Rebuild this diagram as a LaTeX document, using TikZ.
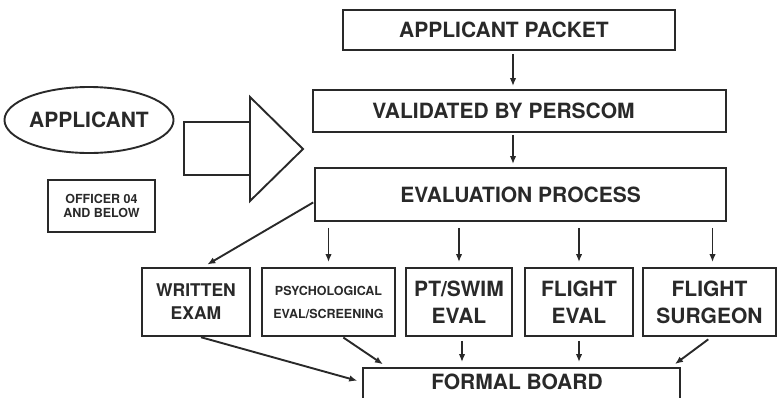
\documentclass[tikz,border=0pt]{standalone}
\usepackage{fontspec}
\setmainfont{TeX Gyre Heros}
\usetikzlibrary{shapes.geometric,arrows.meta}
\definecolor{ink}{gray}{0.16}
\begin{document}
\begin{tikzpicture}[x=1pt,y=-1pt,
  frame/.style={draw=ink, line width=1.9pt, rectangle, inner sep=0pt, align=center, text=ink},
  big/.style={font=\bfseries\fontsize{21}{27}\selectfont},
  mid/.style={font=\bfseries\fontsize{17.5}{23}\selectfont},
  small/.style={font=\bfseries\fontsize{12.5}{14}\selectfont},
  smallwide/.style={font=\bfseries\fontsize{12.5}{23}\selectfont},
  arr/.style={draw=ink, line width=1.9pt, -{Latex[length=8pt,width=6.5pt]}}]
\useasboundingbox (0,0) rectangle (778,397);
% top column
\node[frame, big, minimum width=332pt, minimum height=40pt] (packet) at (509,30) {APPLICANT PACKET\hspace*{10pt}};
\node[frame, big, minimum width=413pt, minimum height=42pt] (validated) at (519.5,111) {VALIDATED BY PERSCOM\hspace*{32pt}};
\node[frame, big, minimum width=411pt, minimum height=53pt] (eval) at (520.5,194.5) {EVALUATION PROCESS};
% left side
\node[draw=ink, line width=1.9pt, ellipse, inner sep=0pt, minimum width=162pt, minimum height=66pt, text=ink, big] (applicant) at (89,120) {APPLICANT};
\node[frame, small, minimum width=107pt, minimum height=52pt] (officer) at (101.5,206) {OFFICER 04\\AND BELOW};
\draw[draw=ink, line width=1.9pt] (184,122) rectangle (250,175);
\draw[draw=ink, line width=1.9pt, line join=miter] (250,97) -- (303,149) -- (250,201) -- cycle;
% bottom row
\node[frame, mid, minimum width=108pt, minimum height=68pt] (written) at (196,302) {WRITTEN\\EXAM};
\node[frame, smallwide, minimum width=133pt, minimum height=68pt] (psych) at (328.5,302) {PSYCHOLOGICAL\\EVAL/SCREENING};
\node[frame, big, minimum width=106pt, minimum height=68pt] (ptswim) at (459,302) {PT/SWIM\\EVAL};
\node[frame, big, minimum width=108pt, minimum height=68pt] (flighteval) at (579,302) {FLIGHT\\EVAL};
\node[frame, big, minimum width=133pt, minimum height=68pt] (surgeon) at (709.5,302) {FLIGHT\\SURGEON};
% formal board
\node[frame, minimum width=317pt, minimum height=40pt] (board) at (521.5,388) {};
\node[big, text=ink, inner sep=0pt] (boardlbl) at (517,382) {FORMAL BOARD};
% connectors
\draw[arr, shorten <=3pt, shorten >=3pt] ([xshift=4pt]packet.south) -- ([xshift=4pt]packet.south |- validated.north);
\draw[arr, shorten <=2pt, shorten >=3pt] ([xshift=-6.5pt]validated.south) -- ([xshift=-6.5pt]validated.south |- eval.north);
\draw[arr, shorten <=1pt, shorten >=5pt] ([yshift=20pt]eval.south west) -- ([xshift=7pt]written.north);
\draw[arr, shorten <=6pt, shorten >=5pt] (eval.south -| psych.north) -- (psych.north);
\draw[arr, shorten <=6pt, shorten >=5pt] (eval.south -| ptswim.north) -- (ptswim.north);
\draw[arr, shorten <=6pt, shorten >=5pt] (eval.south -| flighteval.north) -- (flighteval.north);
\draw[arr, shorten <=6pt, shorten >=5pt] ([xshift=3pt]eval.south -| surgeon.north) -- ([xshift=3pt]surgeon.north);
\draw[arr, shorten <=1pt, shorten >=5pt] ([xshift=4pt]written.south) -- ([yshift=-15pt]board.north west);
\draw[arr, shorten <=1pt, shorten >=5pt] ([xshift=14pt]psych.south) -- ([xshift=25pt]board.north west);
\draw[arr, shorten <=4pt, shorten >=5pt] ([xshift=3pt]ptswim.south) -- ([xshift=3pt]ptswim.south |- board.north);
\draw[arr, shorten <=4pt, shorten >=5pt] (flighteval.south) -- (flighteval.south |- board.north);
\draw[arr, shorten <=4pt, shorten >=5pt] ([xshift=2pt]surgeon.south) -- ([xshift=-10pt]board.north east);
\end{tikzpicture}
\end{document}
